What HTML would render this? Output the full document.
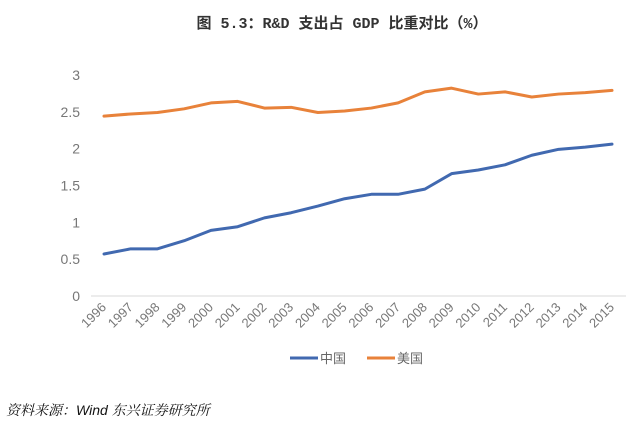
<!DOCTYPE html>
<html><head><meta charset="utf-8"><style>
body{margin:0;background:#fff;}
svg{display:block;font-family:"Liberation Sans","Noto Sans CJK SC",sans-serif;}
</style></head><body>
<svg id="chart" width="640" height="427">
<text x="342" y="28" text-anchor="middle" font-size="15" font-weight="bold" fill="#333" font-family="'Liberation Mono','Noto Sans CJK SC',monospace">图 5.3：R&amp;D 支出占 GDP 比重对比（%）</text>
<g id="axes"></g><g id="lines"></g>
<g>
<line x1="290" y1="358" x2="318" y2="358" stroke="#4169b0" stroke-width="3"/>
<text x="320" y="363" font-size="13" fill="#666">中国</text>
<line x1="367" y1="358" x2="395" y2="358" stroke="#e8823a" stroke-width="3"/>
<text x="397" y="363" font-size="13" fill="#666">美国</text>
</g>
<text x="6" y="415" font-size="14" font-style="italic" fill="#111" font-family="'Liberation Sans','Noto Serif CJK SC',serif">资料来源：Wind  东兴证券研究所</text>
</svg>
<script>
const years=[1996,1997,1998,1999,2000,2001,2002,2003,2004,2005,2006,2007,2008,2009,2010,2011,2012,2013,2014,2015];
const china=[0.57,0.64,0.64,0.75,0.89,0.94,1.06,1.13,1.22,1.32,1.38,1.38,1.45,1.66,1.71,1.78,1.91,1.99,2.02,2.06];
const us=[2.44,2.47,2.49,2.54,2.62,2.64,2.55,2.56,2.49,2.51,2.55,2.62,2.77,2.82,2.74,2.77,2.70,2.74,2.76,2.79];
const yTicks=[0,0.5,1,1.5,2,2.5,3];
const NS="http://www.w3.org/2000/svg";
const x0=104,x1=612,y0=296,yScale=73.7;
function xPos(i){return x0+i*(x1-x0)/(years.length-1);}
function yPos(v){return y0-v*yScale;}
const axes=document.getElementById('axes'),lines=document.getElementById('lines');
function mk(t,a,p){const e=document.createElementNS(NS,t);for(const k in a)e.setAttribute(k,a[k]);p.appendChild(e);return e;}
const base=mk('line',{x1:91,x2:626,y1:y0,y2:y0,stroke:'#d9d9d9','stroke-width':1},axes);


yTicks.forEach(v=>{const t=mk('text',{x:80,y:yPos(v)+5,'text-anchor':'end','font-size':14,fill:'#777'},axes);t.textContent=v;

});
years.forEach((y,i)=>{const x=xPos(i)+3,yy=y0+12;const t=mk('text',{x:x,y:yy,'text-anchor':'end','font-size':13,fill:'#777',transform:`rotate(-45 ${x} ${yy})`},axes);t.textContent=y;

});
function series(d,c,n){const p=mk('polyline',{points:d.map((v,i)=>xPos(i)+','+yPos(v)).join(' '),fill:'none',stroke:c,'stroke-width':3,'stroke-linejoin':'round','stroke-linecap':'round'},lines);

}
series(china,'#4169b0','china-line');
series(us,'#e8823a','us-line');
</script>
</body></html>
